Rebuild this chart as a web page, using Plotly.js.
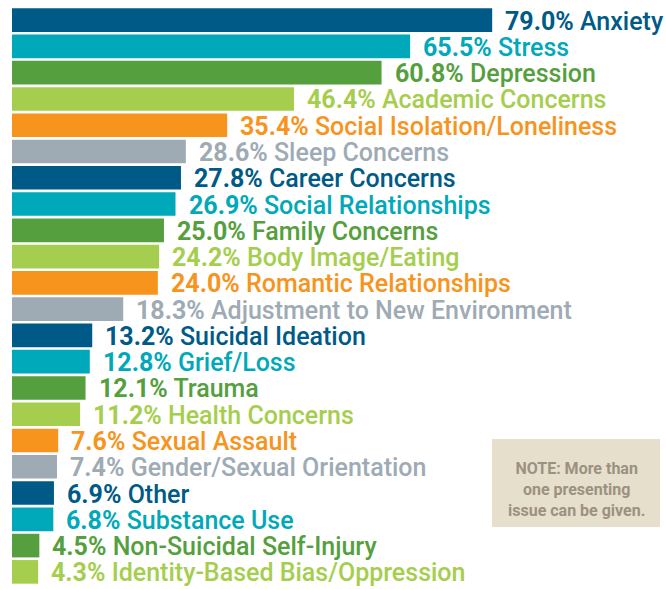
<!DOCTYPE html>
<html>
<head>
<meta charset="utf-8">
<script src="https://cdn.plot.ly/plotly-3.0.1.min.js"></script>
<style>html,body{margin:0;padding:0;background:#fff;}#chart{width:666px;height:589px;}</style>
</head>
<body>
<div id="chart"></div>
<script>
const categories = ["Anxiety","Stress","Depression","Academic Concerns","Social Isolation/Loneliness","Sleep Concerns","Career Concerns","Social Relationships","Family Concerns","Body Image/Eating","Romantic Relationships","Adjustment to New Environment","Suicidal Ideation","Grief/Loss","Trauma","Health Concerns","Sexual Assault","Gender/Sexual Orientation","Other","Substance Use","Non-Suicidal Self-Injury","Identity-Based Bias/Oppression"];
const values = [79.0,65.5,60.8,46.4,35.4,28.6,27.8,26.9,25.0,24.2,24.0,18.3,13.2,12.8,12.1,11.2,7.6,7.4,6.9,6.8,4.5,4.3];
const palette = ["#005a87","#00a9ba","#559f3e","#a6ce4e","#f7941d","#9eabb4"];
const noteText = "NOTE: More than<br>one presenting<br>issue can be given.";

const colors = categories.map((c,i)=>palette[i%palette.length]);

const trace = {
  type: "bar",
  orientation: "h",
  x: values,
  y: categories,
  marker: {color: colors},
  hoverinfo: "none"
};

const annotations = categories.map((c,i)=>({
  x: values[i], y: c, xref: "x", yref: "y",
  xanchor: "left", yanchor: "middle",
  xshift: 11, yshift: -1,
  showarrow: false,
  text: "<b>" + values[i].toFixed(1) + "%</b> " + c,
  font: {family: "Roboto, sans-serif", size: 25, weight: 500, color: colors[i]}
}));

annotations.push({
  xref: "paper", yref: "paper",
  x: 0.8624, y: 0.166, xanchor: "center", yanchor: "middle",
  showarrow: false,
  text: noteText,
  align: "center",
  font: {family: "Roboto, sans-serif", size: 16, weight: 700, color: "#9c9180"}
});

const layout = {
  width: 666, height: 589,
  margin: {l: 12, r: 0, t: 7, b: 4, pad: 0},
  paper_bgcolor: "#fff", plot_bgcolor: "#fff",
  showlegend: false,
  bargap: 0.1,
  xaxis: {range: [0, 107.6], visible: false, fixedrange: true},
  yaxis: {type: "category", categoryorder: "array", categoryarray: categories, range: [21.5, -0.5], visible: false, fixedrange: true},
  shapes: [{
    type: "rect", xref: "paper", yref: "paper",
    x0: 0.734, x1: 0.9908, y0: 0.1003, y1: 0.2526,
    fillcolor: "#e6dfcc", line: {width: 0}, layer: "below"
  }],
  annotations: annotations
};

Plotly.newPlot("chart", [trace], layout, {displayModeBar: false, staticPlot: true});
</script>
</body>
</html>
